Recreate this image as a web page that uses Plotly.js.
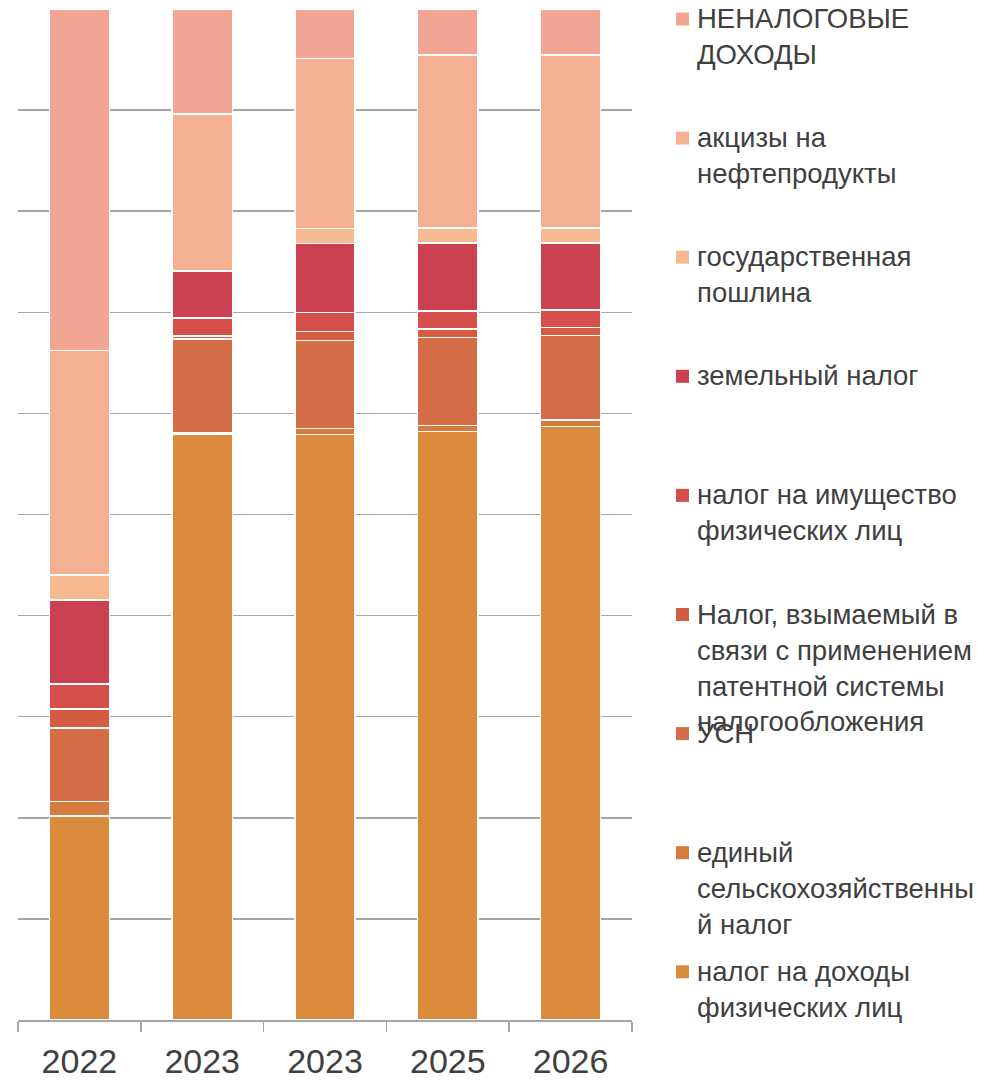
<!DOCTYPE html>
<html>
<head>
<meta charset="utf-8">
<script src="https://cdn.plot.ly/plotly-3.0.1.min.js"></script>
<style>
  html, body { margin: 0; padding: 0; background: #ffffff; }
  #chart { width: 999px; height: 1081px; }
</style>
</head>
<body>
<div id="chart"></div>
<script>
// Categories (years) – note the duplicated "2023" label as in the source
const categories = ['2022', '2023', '2023', '2025', '2026'];

// Series names (bottom to top of the stack)
const seriesNames = [
  'налог на доходы физических лиц',
  'единый сельскохозяйственный налог',
  'УСН',
  'Налог, взымаемый в связи с применением патентной системы налогообложения',
  'налог на имущество физических лиц',
  'земельный налог',
  'государственная пошлина',
  'акцизы на нефтепродукты',
  'НЕНАЛОГОВЫЕ ДОХОДЫ'
];

// Legend labels with the original line breaks (same order as seriesNames)
const legendLabels = [
  'налог на доходы<br>физических лиц',
  'единый<br>сельскохозяйственны<br>й налог',
  'УСН',
  'Налог, взымаемый в<br>связи с применением<br>патентной системы<br>налогообложения',
  'налог на имущество<br>физических лиц',
  'земельный налог',
  'государственная<br>пошлина',
  'акцизы на<br>нефтепродукты',
  'НЕНАЛОГОВЫЕ<br>ДОХОДЫ'
];

// Shares, %
const ndfl      = [20.2, 58.1, 57.9, 58.2, 58.7];
const eshn      = [1.4, 0.1, 0.6, 0.6, 0.65];
const usn       = [7.3, 9.3, 8.7, 8.7, 8.35];
const patent    = [1.9, 0.3, 0.9, 0.85, 0.8];
const imush     = [2.45, 1.8, 1.9, 1.8, 1.75];
const zemel     = [8.3, 4.6, 6.8, 6.7, 6.6];
const gosposh   = [2.5, 0.1, 1.5, 1.5, 1.5];
const akcizy    = [22.2, 15.5, 16.8, 17.1, 17.1];
const nenalog   = [33.8, 10.4, 4.9, 4.55, 4.55];

const seriesValues = [ndfl, eshn, usn, patent, imush, zemel, gosposh, akcizy, nenalog];

const colors = ['#DA8B3C', '#D77A3E', '#D46C45', '#D55B42', '#D5504B', '#CB4151', '#F7B98F', '#F5B091', '#F2A593'];

const xIdx = categories.map((c, i) => i);

const traces = seriesValues.map((vals, i) => ({
  type: 'bar',
  name: seriesNames[i],
  x: xIdx,
  y: vals,
  width: 0.49,
  marker: { color: colors[i], line: { color: '#ffffff', width: 1.5 } },
  showlegend: false,
  hovertemplate: '%{y:.1f}%<extra>' + seriesNames[i] + '</extra>'
}));

// Plot area geometry in px
const W = 999, H = 1081;
const L = 18, R = 367, T = 9, B = 61;
const pw = W - L - R, ph = H - T - B;
const px2x = p => (p - L) / pw;
const px2y = p => (H - B - p) / ph;

// Legend drawn as real text + square markers, top entry first
const annotations = [];
const shapes = [];
const legendTop = 19, legendStep = 119.1;
for (let k = 0; k < seriesNames.length; k++) {
  const i = seriesNames.length - 1 - k;
  const cy = legendTop + k * legendStep;
  shapes.push({
    type: 'rect', xref: 'paper', yref: 'paper',
    x0: px2x(676), x1: px2x(689), y0: px2y(cy - 6.5), y1: px2y(cy + 6.5),
    fillcolor: colors[i], line: { width: 0 }
  });
  annotations.push({
    xref: 'paper', yref: 'paper',
    x: px2x(695), y: px2y(cy - 18),
    xanchor: 'left', yanchor: 'top', align: 'left',
    showarrow: false,
    text: legendLabels[i],
    font: { family: 'Liberation Sans, Arial, sans-serif', size: 27.5, color: '#404040' }
  });
}

const layout = {
  width: W, height: H,
  margin: { l: L, r: R, t: T, b: B, pad: 0 },
  paper_bgcolor: '#ffffff',
  plot_bgcolor: '#ffffff',
  barmode: 'stack',
  barnorm: 'percent',
  font: { family: 'Liberation Sans, Arial, sans-serif', color: '#404040' },
  xaxis: {
    range: [-0.5, 4.5],
    tickmode: 'array',
    tickvals: xIdx,
    ticktext: categories,
    ticks: '',
    ticklabelstandoff: 11,
    tickfont: { size: 34, color: '#404040' },
    showline: true, linecolor: '#A6A6A6', linewidth: 1.5,
    showgrid: false, zeroline: false,
    minor: {
      tickmode: 'array',
      tickvals: [-0.5, 0.5, 1.5, 2.5, 3.5, 4.5],
      ticks: 'outside', ticklen: 10, tickwidth: 1.5, tickcolor: '#A6A6A6',
      showgrid: false
    },
    fixedrange: true
  },
  yaxis: {
    range: [0, 100],
    dtick: 10,
    showticklabels: false,
    ticks: '',
    showgrid: true, gridcolor: '#A6A6A6', gridwidth: 1.5,
    zeroline: false, showline: false,
    fixedrange: true
  },
  shapes: shapes,
  annotations: annotations,
  showlegend: false
};

Plotly.newPlot('chart', traces, layout, { displayModeBar: false, staticPlot: true });
</script>
</body>
</html>
